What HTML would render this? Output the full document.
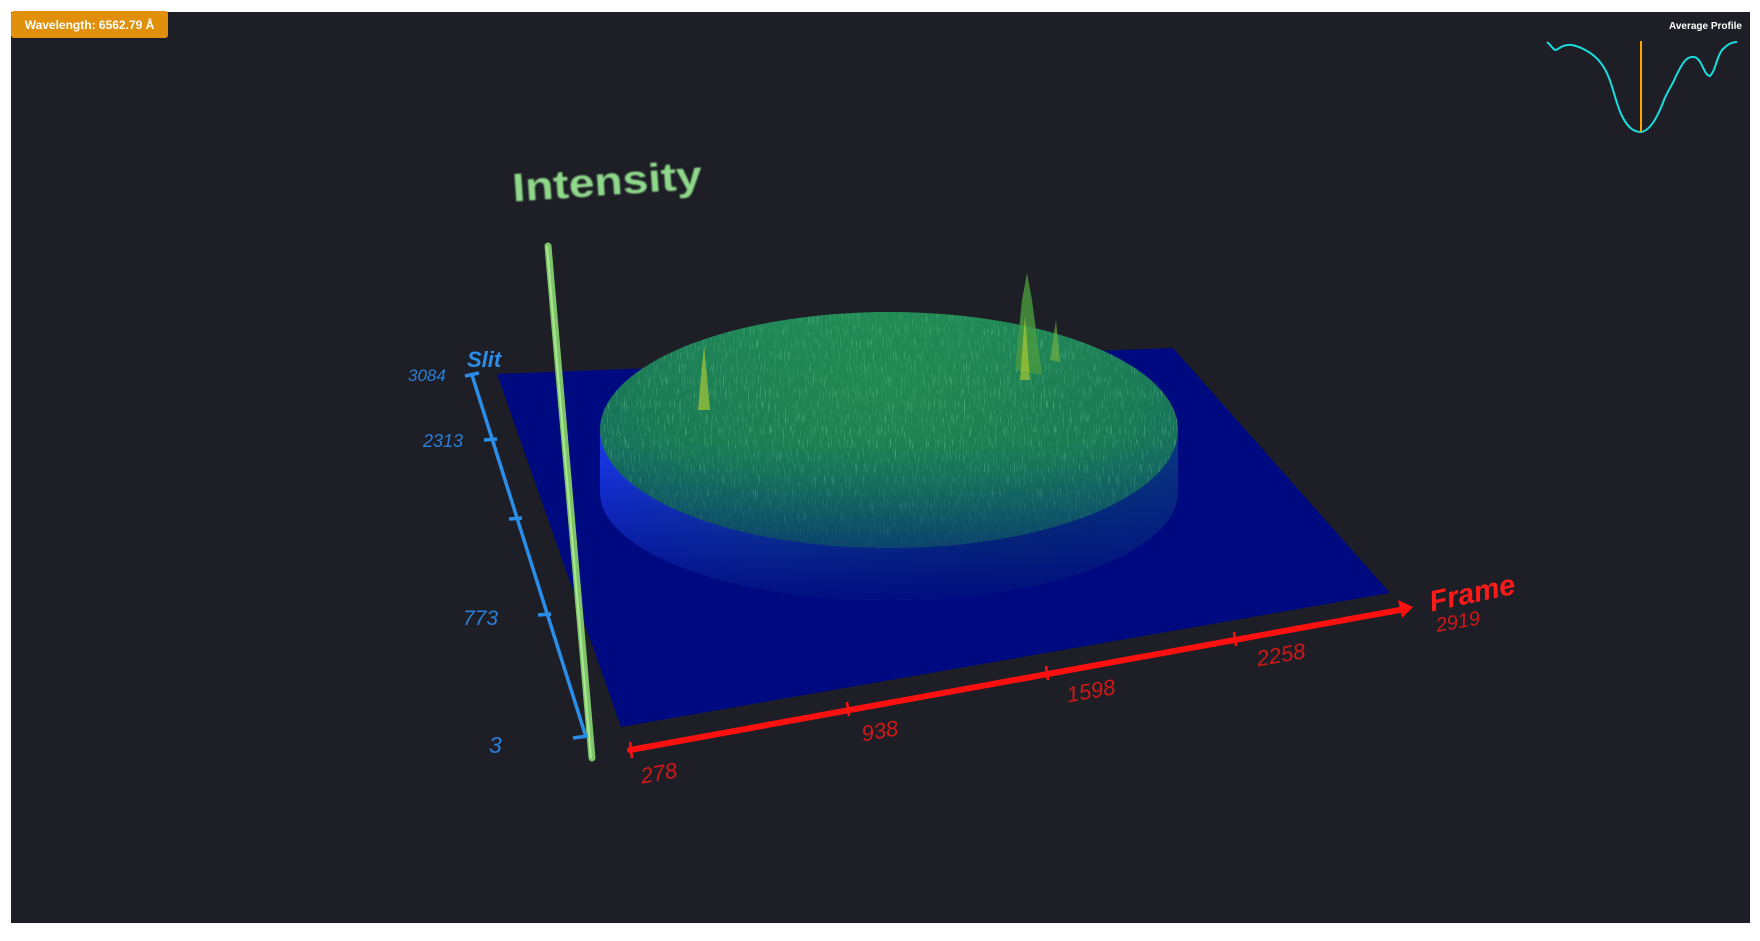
<!DOCTYPE html>
<html><head><meta charset="utf-8"><style>
html,body{margin:0;padding:0;background:#fff;}
body{width:1760px;height:936px;position:relative;overflow:hidden;font-family:"Liberation Sans",sans-serif;}
</style></head><body>
<svg width="1760" height="936" viewBox="0 0 1760 936" xmlns="http://www.w3.org/2000/svg">
<defs>
<linearGradient id="side" x1="0" y1="0" x2="1" y2="0">
<stop offset="0" stop-color="#1a3cf0"/><stop offset="0.3" stop-color="#1a5aa8"/><stop offset="0.7" stop-color="#0c4a6a"/><stop offset="1" stop-color="#0a3a80"/>
</linearGradient>
<linearGradient id="sidefade" x1="0" y1="0" x2="0" y2="1">
<stop offset="0" stop-color="#000a80" stop-opacity="0"/><stop offset="1" stop-color="#000a80" stop-opacity="0.95"/>
</linearGradient>
<radialGradient id="top" cx="0.5" cy="0.3" r="0.75">
<stop offset="0" stop-color="#228a4e"/><stop offset="0.6" stop-color="#1a7a55"/><stop offset="1" stop-color="#105e66"/>
</radialGradient>
<linearGradient id="topfade" x1="0" y1="0" x2="0" y2="1">
<stop offset="0" stop-color="#2fb060" stop-opacity="0.25"/><stop offset="0.55" stop-color="#0c5a6a" stop-opacity="0"/><stop offset="1" stop-color="#08386e" stop-opacity="0.75"/>
</linearGradient>
<filter id="noise" x="0" y="0" width="100%" height="100%">
<feTurbulence type="fractalNoise" baseFrequency="0.9 0.08" numOctaves="2" seed="4"/>
<feColorMatrix type="matrix" values="0 0 0 0 0.4  0 0 0 0 1  0 0 0 0 0.6  0 0 0 3 -1.7"/>
</filter>
<clipPath id="topclip"><ellipse cx="889" cy="430" rx="289" ry="118"/></clipPath>
<filter id="blur"><feGaussianBlur stdDeviation="0.8"/></filter>
</defs>
<rect x="11" y="12" width="1739" height="911" fill="#1e1e26"/>
<polygon points="497,374 1173,348 1390,593 621,727" fill="#000a80"/>
<path d="M600,430 L600,492 A289,108 0 0 0 1178,492 L1178,430 Z" fill="url(#side)"/>
<path d="M600,430 L600,492 A289,108 0 0 0 1178,492 L1178,430 Z" fill="url(#sidefade)"/>
<ellipse cx="889" cy="430" rx="289" ry="118" fill="url(#top)"/>
<rect x="600" y="300" width="580" height="260" filter="url(#noise)" clip-path="url(#topclip)" opacity="0.45"/>
<ellipse cx="889" cy="430" rx="289" ry="118" fill="url(#topfade)"/>
<polygon points="1015,370 1022,300 1027,273 1032,300 1042,375" fill="#4a9a40" opacity="0.8"/>
<polygon points="1020,380 1025,315 1030,380" fill="#b8d030" opacity="0.6"/>
<polygon points="1050,360 1056,320 1060,362" fill="#7ab840" opacity="0.6"/>
<polygon points="698,410 704,345 710,410" fill="#a8c838" opacity="0.7"/>
<line x1="548" y1="246" x2="592" y2="758" stroke="#7fc46a" stroke-width="7" stroke-linecap="round"/>
<line x1="547" y1="246" x2="591" y2="758" stroke="#a8e890" stroke-width="2"/>
<g stroke="#2a8ee8" stroke-width="3.5" fill="none">
<line x1="472" y1="375" x2="586" y2="737"/>
<line x1="465" y1="376" x2="479" y2="373"/>
<line x1="484" y1="440" x2="497" y2="439"/>
<line x1="509" y1="519" x2="522" y2="518"/>
<line x1="538" y1="615" x2="551" y2="614"/>
<line x1="573" y1="738" x2="588" y2="736"/>
</g>
<g fill="#2a7fd8" font-family="'Liberation Sans',sans-serif" font-style="italic">
<text x="408" y="381" font-size="17">3084</text>
<text x="423" y="447" font-size="18">2313</text>
<text x="463" y="625" font-size="21">773</text>
<text x="489" y="753" font-size="23">3</text>
<text x="467" y="367" font-size="22" font-weight="bold" fill="#2a8ee8">Slit</text>
</g>
<line x1="630" y1="750" x2="1405" y2="609" stroke="#ff1010" stroke-width="6" stroke-linecap="round"/>
<g stroke="#ff1010" stroke-width="2.5">
<line x1="630" y1="742" x2="632" y2="758"/>
<line x1="847" y1="702" x2="849" y2="716"/>
<line x1="1046" y1="666" x2="1048" y2="680"/>
<line x1="1234" y1="632" x2="1236" y2="646"/>
</g>
<polygon points="1413,607 1398,600 1402,618" fill="#ff1010"/>
<g fill="#d01818" font-family="'Liberation Sans',sans-serif" font-style="italic" font-size="22">
<text x="640" y="780" transform="rotate(-10 662 770)">278</text>
<text x="861" y="738" transform="rotate(-10 882 728)">938</text>
<text x="1066" y="698" transform="rotate(-10 1093 688)">1598</text>
<text x="1256" y="662" transform="rotate(-10 1282 652)">2258</text>
<text x="1435" y="628" font-size="20" transform="rotate(-10 1459 618)">2919</text>
<text x="1428" y="603" font-size="29" font-weight="bold" fill="#ff1a1a" transform="rotate(-12 1470 590)">Frame</text>
</g>
<text x="607" y="195" text-anchor="middle" font-family="'Liberation Sans',sans-serif" font-weight="bold" font-size="40" fill="#8fd88a" filter="url(#blur)" transform="rotate(-4 607 180)" textLength="190" lengthAdjust="spacingAndGlyphs">Intensity</text>
<rect x="11" y="11" width="157" height="27" rx="3" fill="#e0900a"/>
<text x="89.5" y="29" text-anchor="middle" font-family="'Liberation Sans',sans-serif" font-weight="bold" font-size="12" fill="#fff">Wavelength: 6562.79 Å</text>
<text x="1742" y="29" text-anchor="end" font-family="'Liberation Sans',sans-serif" font-weight="bold" font-size="10" fill="#fff">Average Profile</text>
<path d="M1547,42 C1552,46 1553,50 1556,50 C1560,48 1564,44 1572,45 C1582,47 1594,54 1600,62 C1612,76 1614,100 1622,116 C1628,128 1634,132 1641,132 C1650,131 1658,116 1664,100 C1668,90 1672,86 1676,76 C1682,64 1686,56 1694,57 C1702,58 1704,76 1710,76 C1716,70 1716,58 1722,50 C1728,44 1732,42 1737,42" fill="none" stroke="#19dcdc" stroke-width="2"/>
<line x1="1641" y1="41" x2="1641" y2="132" stroke="#ffa500" stroke-width="2"/>
</svg>
</body></html>
